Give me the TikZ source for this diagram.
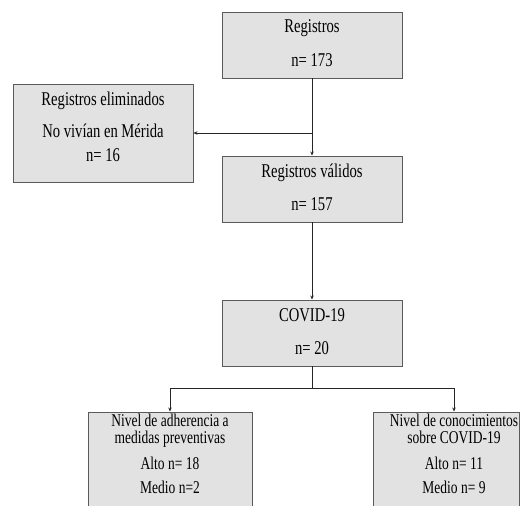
\documentclass[tikz,border=0pt]{standalone}
\usepackage{fontspec}
\setmainfont{Liberation Serif}[FakeStretch=0.75]
\usetikzlibrary{arrows.meta,positioning}
\definecolor{boxgray}{HTML}{E2E2E2}
\definecolor{edgegray}{HTML}{5A5A5A}

\begin{document}
\begin{tikzpicture}[x=1pt,y=-1pt,
  caja/.style={draw=edgegray,fill=boxgray,line width=0.9pt,inner sep=0pt,
    minimum width=180pt,minimum height=66pt},
  txt/.style={anchor=base,inner sep=0pt,font=\fontsize{19.5}{20}\selectfont},
  txtp/.style={anchor=base,inner sep=0pt,align=center,
    font=\fontsize{18}{16.5}\selectfont},
  linea/.style={draw=black!85,line width=0.8pt},
  flecha/.style={linea,-{Stealth[length=4pt,width=3.5pt]}}]
\useasboundingbox (0,0) rectangle (523,506);
\clip (0,0) rectangle (523,506);
% cajas
\node[caja] (reg) at (312,45) {};
\node[caja,minimum height=98pt] (elim) at (103,133) {};
\node[caja] (val) at (312,189) {};
\node[caja] (cov) at (312,333) {};
\node[caja,minimum width=164pt,minimum height=120pt] (adh) at (170,472) {};
\node[caja,minimum width=146pt,minimum height=120pt] (con) at (446,472) {};
% textos
\node[txt] (reg1) at ([yshift=-21pt]reg.north) {Registros};
\node[txt] (reg2) at ([yshift=-55pt]reg.north) {n= 173};
\node[txt] (elim1) at ([yshift=-22pt]elim.north) {Registros eliminados};
\node[txt] (elim2) at ([yshift=-54pt]elim.north) {No vivían en Mérida};
\node[txt] (elim3) at ([yshift=-78pt]elim.north) {n= 16};
\node[txt] (val1) at ([yshift=-22pt]val.north) {Registros válidos};
\node[txt] (val2) at ([yshift=-55pt]val.north) {n= 157};
\node[txt] (cov1) at ([yshift=-22pt]cov.north) {COVID-19};
\node[txt] (cov2) at ([yshift=-55pt]cov.north) {n= 20};
\node[txtp] (adh1) at ([yshift=-31.5pt]adh.north) {Nivel de adherencia a\\medidas preventivas};
\node[txtp] (adh3) at ([yshift=-58pt]adh.north) {Alto n= 18};
\node[txtp] (adh4) at ([yshift=-82pt]adh.north) {Medio n=2};
\node[txtp] (con1) at ([xshift=8pt,yshift=-31.5pt]con.north) {Nivel de conocimientos\\sobre COVID-19};
\node[txtp] (con3) at ([xshift=8pt,yshift=-58pt]con.north) {Alto n= 11};
\node[txtp] (con4) at ([xshift=8pt,yshift=-82pt]con.north) {Medio n= 9};
% conectores
\coordinate (cruce) at (reg.south |- elim.east);
\coordinate (rama) at ([yshift=-22pt]cov.south);
\draw[flecha] (reg) -- (val);
\draw[flecha] (cruce) -- (elim.east);
\draw[flecha] (val) -- (cov);
\draw[linea] (cov.south) -- (rama);
\draw[flecha] (rama) -| (adh.north);
\draw[flecha] (rama) -| ([xshift=8pt]con.north);
\end{tikzpicture}
\end{document}
